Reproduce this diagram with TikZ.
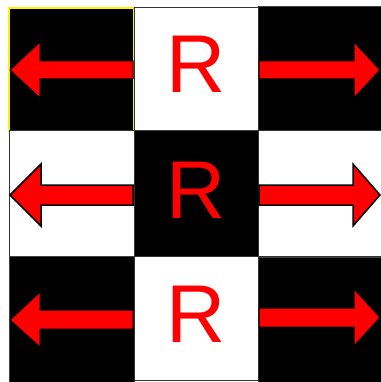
\documentclass[tikz,border=0pt]{standalone}
\usepackage{fontspec}
\setmainfont{Liberation Sans}
\begin{document}
\begin{tikzpicture}[x=1pt,y=-1pt,
  blackcell/.style={fill=black,draw=gray!50!black,line width=1pt},
  whitecell/.style={fill=white,draw=gray!40!black,line width=1pt},
  redarrow/.style={fill=red,draw=black,line width=1pt,line join=miter},
  letter/.style={text=red,inner sep=0pt,font=\fontsize{82}{82}\selectfont}]
\useasboundingbox (0,0) rectangle (380,382);
% top row
\draw[fill=black,draw=yellow,line width=1.2pt] (9,8) rectangle (134,131);
\draw[blackcell] (258,7) rectangle (381,131);
\draw[whitecell] (134,8) rectangle (258,131);
% middle row
\draw[blackcell] (134,131) rectangle (258,256);
\draw[whitecell] (9,131) rectangle (134,256);
\draw[whitecell] (258,131) rectangle (381,256);
% bottom row
\draw[blackcell] (9,256) rectangle (134,383);
\draw[blackcell] (258,257) rectangle (381,383);
\draw[whitecell] (134,256) rectangle (258,380);
% letters
\node[letter] (r1) at (196,64.5) {R};
\node[letter] (r2) at (196,190.5) {R};
\node[letter] (r3) at (196,314.5) {R};
% top arrows
\draw[redarrow] (10,70) -- (40,42) -- (40,61) -- (133,61) -- (133,79) -- (40,79) -- (40,98) -- cycle;
\draw[redarrow] (380,70) -- (354,42) -- (354,61) -- (259,61) -- (259,79) -- (354,79) -- (354,98) -- cycle;
% middle arrows
\draw[redarrow,line width=1.5pt] (10,195) -- (41,164) -- (41,185) -- (133,185) -- (133,205) -- (41,205) -- (41,226) -- cycle;
\draw[redarrow,line width=1.5pt] (380,195) -- (353,164) -- (353,185) -- (259,185) -- (259,205) -- (353,205) -- (353,226) -- cycle;
% bottom arrows
\draw[redarrow] (10,320) -- (40,292) -- (40,310) -- (133,310) -- (133,329) -- (40,329) -- (40,347) -- cycle;
\draw[redarrow] (380,317.5) -- (354,289) -- (354,308) -- (259,308) -- (259,327) -- (354,327) -- (354,346) -- cycle;
\end{tikzpicture}
\end{document}
